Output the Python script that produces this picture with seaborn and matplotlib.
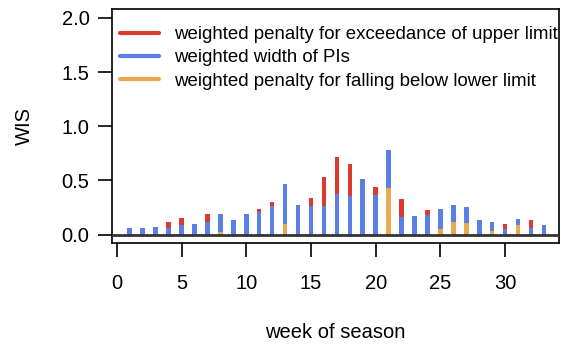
import numpy as np
import pandas as pd
import matplotlib
matplotlib.use("Agg")
import matplotlib.pyplot as plt
from matplotlib.lines import Line2D
import seaborn as sns

weeks = list(range(1, 34))
lower = [0, 0, 0, 0, 0, 0, 0, 0.025, 0, 0, 0, 0, 0.10, 0, 0, 0, 0, 0, 0, 0,
         0.426, 0, 0, 0, 0.055, 0.116, 0.107, 0, 0.033, 0, 0.086, 0, 0]
width = [0.06, 0.056, 0.07, 0.065, 0.086, 0.10, 0.117, 0.163, 0.136, 0.19, 0.21, 0.262,
         0.37, 0.275, 0.262, 0.262, 0.37, 0.355, 0.515, 0.364, 0.352, 0.164, 0.173,
         0.179, 0.185, 0.154, 0.143, 0.138, 0.087, 0.055, 0.058, 0.061, 0.086]
upper = [0, 0, 0, 0.055, 0.071, 0, 0.077, 0, 0, 0, 0.028, 0.043, 0, 0, 0.074, 0.272,
         0.346, 0.299, 0, 0.074, 0, 0.163, 0, 0.045, 0, 0, 0, 0, 0, 0.045, 0, 0.069, 0]
xticks = [0, 5, 10, 15, 20, 25, 30]
yticks = [0.0, 0.5, 1.0, 1.5, 2.0]
labels = ["weighted penalty for exceedance of upper limit",
          "weighted width of PIs",
          "weighted penalty for falling below lower limit"]

RED = "#dc3a2e"
BLUE = "#5b7fe6"
ORANGE = "#eaa94f"

df = pd.DataFrame({"week": weeks, "lower": lower, "width": width, "upper": upper})
df["mid"] = df["lower"] + df["width"]
df["total"] = df["mid"] + df["upper"]

sns.set_style("white")
plt.rcParams["font.family"] = ["Liberation Sans", "DejaVu Sans"]

fig = plt.figure(figsize=(5.61, 3.45), dpi=100)
ax = fig.add_axes([0.199, 0.295, 0.7983, 0.678])

bw = 0.35
sns.barplot(data=df, x="week", y="total", color=RED, native_scale=True,
            width=bw, saturation=1, ax=ax, linewidth=0, zorder=2)
sns.barplot(data=df, x="week", y="mid", color=BLUE, native_scale=True,
            width=bw, saturation=1, ax=ax, linewidth=0, zorder=3)
sns.barplot(data=df, x="week", y="lower", color=ORANGE, native_scale=True,
            width=bw, saturation=1, ax=ax, linewidth=0, zorder=4)

ax.axhline(0, color="#333333", lw=2, zorder=5)

ax.set_xlim(-0.4, 34.2)
ax.set_ylim(-0.08, 2.08)
ax.set_xticks(xticks)
ax.set_xticklabels([str(t) for t in xticks])
ax.set_yticks(yticks)
ax.set_yticklabels([f"{t:.1f}" for t in yticks])
ax.tick_params(axis="both", direction="out", length=10, width=1.2, color="black",
               labelsize=14.5, labelcolor="black")
ax.tick_params(axis="x", pad=12)
ax.tick_params(axis="y", pad=6)
ax.tick_params(left=True, bottom=True)
for s in ax.spines.values():
    s.set_visible(True)
    s.set_color("black")
    s.set_linewidth(1.2)

ax.set_xlabel("week of season", fontsize=14.5, labelpad=22, color="black")
ax.set_ylabel("WIS", fontsize=14.5, labelpad=20, color="black")

handles = [Line2D([], [], color=RED, lw=3),
           Line2D([], [], color=BLUE, lw=3),
           Line2D([], [], color=ORANGE, lw=3)]
ax.legend(handles, labels, loc="upper left", bbox_to_anchor=(0.002, 0.96),
          frameon=False, fontsize=13.4, labelcolor="black",
          handlelength=2.1, handletextpad=0.8, labelspacing=0.34,
          borderaxespad=0.0, borderpad=0.4)

fig.savefig("out.png", dpi=100)
